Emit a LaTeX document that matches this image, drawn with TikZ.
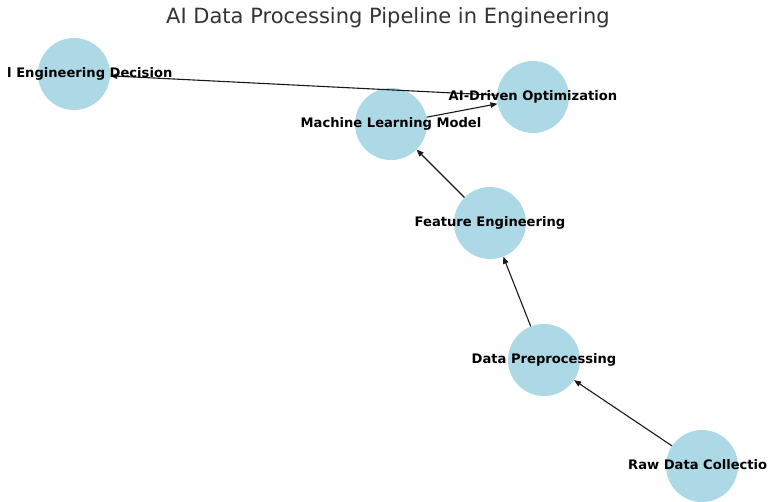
\documentclass[tikz,border=0pt]{standalone}
\usepackage{fontspec}
\setmainfont{DejaVu Sans}
\usetikzlibrary{arrows.meta}
\definecolor{nodeblue}{HTML}{ADD8E6}
\definecolor{titlegray}{HTML}{333333}
\tikzset{
  stage/.style={circle, fill=nodeblue, draw=none, inner sep=0pt, minimum size=72pt},
  stagetext/.style={font=\bfseries\fontsize{13.1}{15}\selectfont, text=black, inner sep=0pt,
    text height=10pt, text depth=3pt},
  flow/.style={draw=black!90, line width=1.1pt, -{Triangle[length=7pt,width=5.5pt]}},
}
\begin{document}
\begin{tikzpicture}[x=1pt, y=-1pt]
  \useasboundingbox (0,0) rectangle (768,501);
  % title
  \node[font=\fontsize{21}{25}\selectfont, text=titlegray] (title) at (388,18) {AI Data Processing Pipeline in Engineering};
  % stages
  \node[stage] (dec) at (74,74) {};
  \node[stage] (opt) at (533,97) {};
  \node[stage] (ml)  at (391,124) {};
  \node[stage] (fe)  at (490,223) {};
  \node[stage] (pre) at (544,360) {};
  \node[stage] (raw) at (702,466) {};
  % connectors
  \draw[flow] (raw) -- (pre);
  \draw[flow] (pre) -- (fe);
  \draw[flow] (fe) -- (ml);
  \draw[flow] (ml) -- (opt);
  \draw[flow] (opt) -- (dec);
  % labels (the two at the edges show only the letters that fit on the page)
  \node[stagetext, anchor=west] (decl) at (7,74) {l Engineering Decision};
  \node[stagetext] (optl) at (opt.center) {AI-Driven Optimization};
  \node[stagetext] (mll)  at (ml.center)  {Machine Learning Model};
  \node[stagetext] (fel)  at (fe.center)  {Feature Engineering};
  \node[stagetext] (prel) at (pre.center) {Data Preprocessing};
  \node[stagetext, anchor=west] (rawl) at (628,466) {Raw Data Collectio};
\end{tikzpicture}
\end{document}
